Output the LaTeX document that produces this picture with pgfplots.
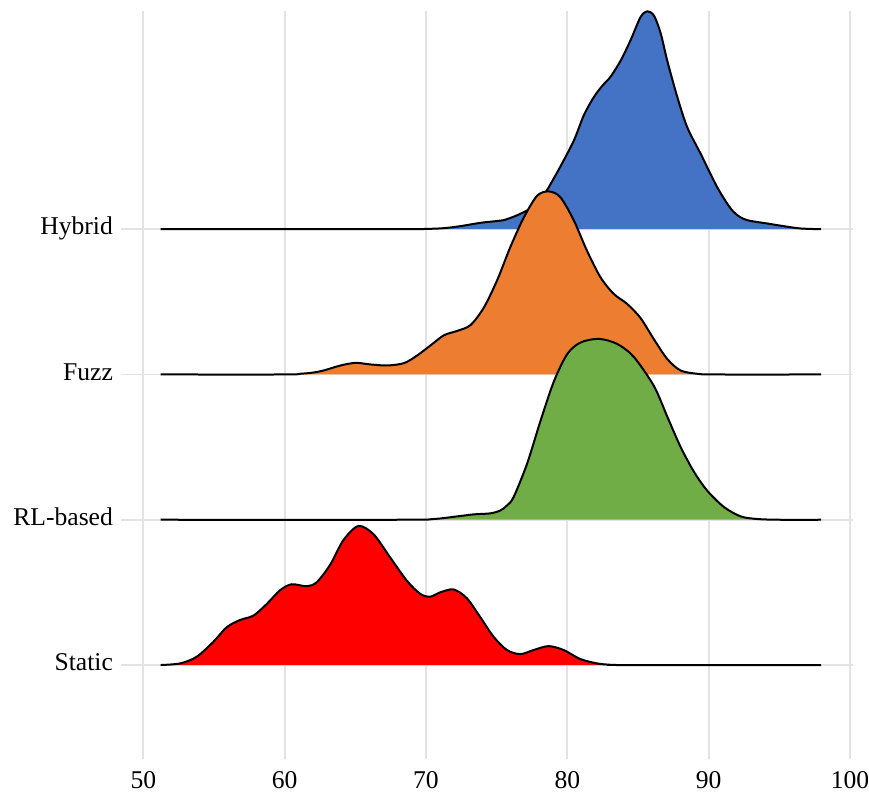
\documentclass[border=0pt]{standalone}
\usepackage{fontspec}
\setmainfont{Liberation Serif}
\usepackage{pgfplots}
\usepackage{pgfplotstable}
\pgfplotsset{compat=1.18}
\definecolor{cHyb}{HTML}{4472C4}
\definecolor{cFuz}{HTML}{ED7D31}
\definecolor{cRL}{HTML}{70AD47}
\definecolor{cSta}{HTML}{FF0000}
\definecolor{gridc}{HTML}{E3E3E3}

\pgfplotstableread{
x y
51.23 4
68.0 4
70.0 4.002
71.25 4.007
72.5 4.022
73.85 4.044
75.0 4.056
75.5 4.062
76.45 4.096
77.4 4.142
78.0 4.19
78.57 4.27
79.5 4.43
80.46 4.61
81.17 4.785
81.88 4.91
82.5 4.99
83.06 5.05
83.77 5.16
84.47 5.30
85.18 5.46
85.65 5.50
86.13 5.47
86.6 5.35
87.07 5.16
87.78 4.91
88.49 4.70
89.43 4.52
90.6 4.29
91.56 4.142
92.2 4.085
92.74 4.062
93.4 4.05
94.16 4.039
95.3 4.021
96.5 4.005
97.95 4
}\hyb

\pgfplotstableread{
x y
51.23 3
60.0 3
61.13 3.005
62.0 3.013
62.78 3.028
63.96 3.062
65.02 3.080
66.08 3.069
67.26 3.062
68.44 3.078
69.38 3.131
70.32 3.20
71.27 3.27
72.21 3.30
73.15 3.34
74.09 3.46
75.04 3.65
75.98 3.88
76.92 4.08
77.86 4.23
78.69 4.26
79.51 4.22
80.46 4.06
81.4 3.85
82.34 3.67
83.28 3.555
84.23 3.486
85.17 3.39
86.11 3.245
87.06 3.108
88.0 3.028
89.18 3.005
90.5 3
97.95 3
}\fuz

\pgfplotstableread{
x y
51.23 2
68.2 2
70.54 2.005
72.2 2.023
73.38 2.037
74.56 2.044
75.27 2.064
75.75 2.10
76.2 2.156
77.15 2.385
78.1 2.68
79.04 2.95
79.99 3.14
80.93 3.22
82.23 3.245
83.53 3.21
84.71 3.12
86.13 2.92
87.07 2.71
88.02 2.50
88.96 2.33
89.9 2.20
91.09 2.087
92.27 2.023
93.45 2.005
95.0 2
97.95 2
}\rlb

\pgfplotstableread{
x y
51.23 1
52.6 1.011
53.78 1.057
54.96 1.16
55.9 1.26
56.84 1.31
57.79 1.34
58.73 1.42
59.68 1.515
60.5 1.556
61.56 1.542
62.27 1.57
63.22 1.69
64.16 1.86
65.22 1.957
66.29 1.90
67.47 1.74
68.65 1.58
69.59 1.49
70.3 1.47
71.0 1.50
71.95 1.52
72.89 1.46
73.84 1.33
74.78 1.195
75.73 1.103
76.67 1.075
77.61 1.103
78.67 1.13
79.74 1.103
80.92 1.041
82.1 1.011
83.0 1.002
84.0 1
97.95 1
}\sta

\begin{document}
\begin{tikzpicture}
\begin{axis}[
  scale only axis, width=366pt, height=374pt,
  xmin=48.40, xmax=100.19, ymin=0.351, ymax=5.50,
  axis line style={draw=none},
  major tick length=0pt,
  xtick={50,60,70,80,90,100}, xticklabels={50,60,70,80,90,100},
  ytick={1,2,3,4}, yticklabels={Static,RL-based,Fuzz,Hybrid},
  grid=major, major grid style={color=gridc, line width=0.9pt},
  tick label style={font=\fontsize{12.8}{15}\selectfont},
  xticklabel style={anchor=base, inner sep=0pt, yshift=-14.5pt},
  yticklabel style={anchor=base east, inner sep=0pt, xshift=-3.7pt, yshift=-2.8pt},
  /pgf/number format/assume math mode=true,
  clip=false,
]
\coordinate (bl) at (rel axis cs:0,0);
\addplot[fill=cHyb, draw=none, smooth, forget plot] table {\hyb};
\addplot[black, line width=1pt, smooth, forget plot] table {\hyb};
\addplot[fill=cFuz, draw=none, smooth, forget plot] table {\fuz};
\addplot[black, line width=1pt, smooth, forget plot] table {\fuz};
\addplot[fill=cRL, draw=none, smooth, forget plot] table {\rlb};
\addplot[black, line width=1pt, smooth, forget plot] table {\rlb};
\addplot[fill=cSta, draw=none, smooth, forget plot] table {\sta};
\addplot[black, line width=1pt, smooth, forget plot] table {\sta};
\end{axis}
\pgfresetboundingbox
\path[use as bounding box] (bl) ++(-60.35pt,-16.35pt) rectangle ++(434.5pt,396pt);
\end{tikzpicture}
\end{document}
